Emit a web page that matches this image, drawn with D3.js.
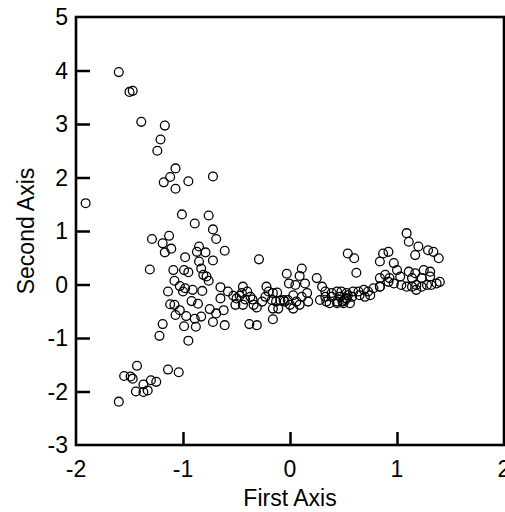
<!DOCTYPE html>
<html>
<head>
<meta charset="utf-8">
<script src="https://cdn.jsdelivr.net/npm/d3@7"></script>
<style>
  body { margin: 0; background: #fff; }
  text { font-family: "Liberation Sans", Arial, sans-serif; fill: #000; }
</style>
</head>
<body>
<div id="chart"></div>
<script>
// Axis ticks
const xTicks = [-2, -1, 0, 1, 2];
const yTicks = [-3, -2, -1, 0, 1, 2, 3, 4, 5];

// Scores: [first axis, second axis], grouped by region of the plot
const upperArm = [
  [-1.60, 3.97], [-1.50, 3.60], [-1.47, 3.62], [-1.39, 3.04], [-1.17, 2.97],
  [-1.21, 2.71], [-1.24, 2.50], [-1.07, 2.17], [-1.12, 2.01], [-1.18, 1.91],
  [-1.07, 1.79], [-0.95, 1.93], [-0.72, 2.02], [-1.91, 1.52], [-1.01, 1.31],
  [-0.76, 1.29], [-0.89, 1.14], [-0.72, 1.03], [-0.69, 0.85], [-1.29, 0.85],
  [-1.13, 0.91], [-1.19, 0.77], [-1.11, 0.67], [-1.17, 0.60], [-0.85, 0.71],
  [-0.87, 0.61], [-0.79, 0.60], [-0.61, 0.63], [-0.98, 0.51], [-0.72, 0.45],
  [-0.85, 0.43]
];

const leftCluster = [
  [-1.31, 0.28], [-1.09, 0.27], [-0.99, 0.27], [-0.95, 0.23], [-0.83, 0.30],
  [-0.81, 0.18], [-0.78, 0.15], [-0.76, 0.07], [-1.08, 0.07], [-1.03, -0.03],
  [-0.98, -0.07], [-0.91, -0.10], [-1.14, -0.13], [-1.00, -0.13], [-0.82, -0.12],
  [-0.65, -0.05], [-0.65, -0.26], [-0.92, -0.31], [-0.86, -0.36], [-1.12, -0.37],
  [-1.08, -0.38], [-1.03, -0.48], [-1.07, -0.57], [-0.97, -0.59], [-0.89, -0.64],
  [-0.83, -0.60], [-0.75, -0.46], [-0.72, -0.70], [-0.69, -0.54], [-0.62, -0.48],
  [-0.99, -0.78], [-0.88, -0.79], [-1.19, -0.74], [-0.61, -0.76], [-1.22, -0.96],
  [-0.95, -1.05]
];

const lowerArm = [
  [-1.43, -1.52], [-1.14, -1.59], [-1.04, -1.64], [-1.55, -1.71], [-1.49, -1.72],
  [-1.47, -1.76], [-1.30, -1.79], [-1.25, -1.82], [-1.37, -1.87], [-1.44, -2.00],
  [-1.37, -2.01], [-1.33, -1.98], [-1.60, -2.19]
];

const middleBand = [
  [-0.58, -0.13], [-0.53, -0.21], [-0.50, -0.26], [-0.47, -0.21], [-0.51, -0.38],
  [-0.44, -0.38], [-0.44, -0.04], [-0.45, -0.16], [-0.40, -0.13], [-0.42, -0.28],
  [-0.37, -0.23], [-0.34, -0.38], [-0.35, -0.28], [-0.31, -0.43], [-0.26, -0.32],
  [-0.22, -0.04], [-0.20, -0.13], [-0.23, -0.23], [-0.16, -0.16], [-0.13, -0.32],
  [-0.16, -0.45], [-0.11, -0.45], [-0.06, -0.29], [-0.02, -0.29], [0.03, -0.45],
  [0.00, -0.38], [0.06, -0.32], [0.11, -0.23], [0.16, -0.16], [0.17, -0.32],
  [0.09, -0.38], [-0.12, -0.15], [-0.17, -0.29], [-0.09, -0.30], [-0.05, -0.32],
  [-0.29, 0.47], [-0.03, 0.20], [0.11, 0.30], [-0.01, 0.02], [0.05, -0.01],
  [0.09, 0.16], [0.14, 0.02], [0.03, -0.20], [0.25, 0.12], [0.30, -0.04],
  [-0.38, -0.74], [-0.31, -0.76], [-0.16, -0.65],
  [0.33, -0.13], [0.28, -0.29], [0.34, -0.32], [0.39, -0.16], [0.44, -0.13],
  [0.48, -0.13], [0.53, -0.26], [0.50, -0.35], [0.44, -0.35], [0.37, -0.35],
  [0.33, -0.23], [0.39, -0.23], [0.47, -0.23], [0.51, -0.29], [0.54, -0.20],
  [0.44, -0.32], [0.53, -0.16], [0.59, -0.13], [0.64, -0.13], [0.69, -0.10],
  [0.73, -0.13], [0.78, -0.07], [0.84, -0.04], [0.75, -0.20], [0.70, -0.23],
  [0.65, -0.20], [0.58, -0.23], [0.52, -0.26], [0.49, -0.32], [0.56, -0.35]
];

const rightCluster = [
  [0.54, 0.58], [0.60, 0.49], [0.62, 0.22], [1.09, 0.96], [1.11, 0.80],
  [1.20, 0.71], [1.17, 0.55], [1.29, 0.64], [1.34, 0.61], [1.39, 0.49],
  [0.92, 0.61], [0.87, 0.58], [0.84, 0.43], [0.97, 0.40], [1.00, 0.27],
  [1.03, 0.15], [1.11, 0.24], [1.17, 0.21], [1.25, 0.27], [1.31, 0.24],
  [1.14, 0.12], [1.23, 0.12], [1.31, 0.15], [0.84, 0.12], [0.92, 0.05],
  [0.97, 0.02], [1.04, -0.01], [1.09, -0.04], [1.14, -0.04], [1.18, -0.01],
  [1.23, -0.04], [1.28, -0.01], [1.32, -0.01], [1.37, 0.02], [1.40, 0.05],
  [1.18, -0.10], [0.84, -0.04], [0.93, 0.12], [0.89, 0.18]
];

const points = [...upperArm, ...leftCluster, ...lowerArm, ...middleBand, ...rightCluster];

// Dimensions
const width = 505;
const height = 512;
const margin = { top: 17, right: 1, bottom: 67, left: 76 };
const fontSize = 23;

const svg = d3.select("#chart")
  .append("svg")
  .attr("width", width)
  .attr("height", height);

const x = d3.scaleLinear().domain([-2, 2]).range([margin.left, width - margin.right]);
const y = d3.scaleLinear().domain([-3, 5]).range([height - margin.bottom, margin.top]);

// Points (open circles)
svg.append("g")
  .selectAll("circle")
  .data(points)
  .join("circle")
  .attr("cx", d => x(d[0]))
  .attr("cy", d => y(d[1]))
  .attr("r", 4.4)
  .attr("fill", "none")
  .attr("stroke", "#000")
  .attr("stroke-width", 1.3);

// Inward ticks, labels drawn separately
const xAxis = svg.append("g")
  .attr("transform", `translate(0, ${y(-3)})`)
  .call(d3.axisBottom(x).tickValues(xTicks.slice(1, -1)).tickSize(-13).tickFormat(""));
const yAxis = svg.append("g")
  .attr("transform", `translate(${x(-2)}, 0)`)
  .call(d3.axisLeft(y).tickValues(yTicks.slice(1, -1)).tickSize(-14).tickFormat(""));
[xAxis, yAxis].forEach(a => {
  a.select(".domain").remove();
  a.selectAll(".tick line").attr("stroke", "#000").attr("stroke-width", 2.5);
});

// Frame
svg.append("rect")
  .attr("x", x(-2))
  .attr("y", y(5))
  .attr("width", x(2) - x(-2))
  .attr("height", y(-3) - y(5))
  .attr("fill", "none")
  .attr("stroke", "#000")
  .attr("stroke-width", 2.6);

// Tick labels
svg.append("g")
  .selectAll("text")
  .data(xTicks)
  .join("text")
  .attr("x", d => x(d))
  .attr("y", 477)
  .attr("text-anchor", "middle")
  .attr("font-size", fontSize)
  .text(d => d);

svg.append("g")
  .selectAll("text")
  .data(yTicks)
  .join("text")
  .attr("x", 68)
  .attr("y", d => y(d) + 8)
  .attr("text-anchor", "end")
  .attr("font-size", fontSize)
  .text(d => d);

// Axis titles
svg.append("text")
  .attr("x", (x(-2) + x(2)) / 2)
  .attr("y", 506)
  .attr("text-anchor", "middle")
  .attr("font-size", fontSize)
  .text("First Axis");

svg.append("text")
  .attr("transform", `translate(34, ${(y(5) + y(-3)) / 2}) rotate(-90)`)
  .attr("text-anchor", "middle")
  .attr("font-size", fontSize)
  .text("Second Axis");
</script>
</body>
</html>
